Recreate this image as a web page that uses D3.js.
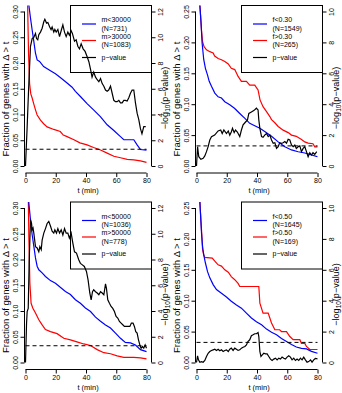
<!DOCTYPE html>
<html><head><meta charset="utf-8">
<script src="https://cdn.jsdelivr.net/npm/d3@7"></script>
<style>body{margin:0;background:#fff}svg text{font-family:"Liberation Sans",Arial,sans-serif;fill:#000}</style>
</head><body><svg id="c" width="342" height="393"></svg>
<script>
// ---------- data ----------
const xTicks = [0, 20, 40, 60, 80];
const leftTicksA = [0, 0.05, 0.10, 0.15, 0.20, 0.25, 0.30];
const leftTicksB = [0, 0.05, 0.10, 0.15, 0.20, 0.25];
const rightTicksA = [0, 2, 4, 6, 8, 10, 12];
const rightTicksB = [0, 2, 4, 6, 8, 10];
const pThreshold = 1.301; // -log10(0.05)

const legendTL = ["m<30000", "(N=731)", "m>30000", "(N=1083)", "p\u2212value"];
const legendTR = ["f<0.30", "(N=1549)", "f>0.30", "(N=265)", "p\u2212value"];
const legendBL = ["m<50000", "(N=1036)", "m>50000", "(N=778)", "p\u2212value"];
const legendBR = ["f<0.50", "(N=1645)", "f>0.50", "(N=169)", "p\u2212value"];

// top-left: m<30000 (blue), m>30000 (red), -log10 p (black)
const tlLow = [[0,1.0],[1.5,0.5],[2.2,0.313],[3.3,0.287],[4.4,0.264],[5.5,0.242],[6.6,0.219],[7.7,0.206],[9.3,0.203],[12,0.193],[16.5,0.185],[19.8,0.179],[23,0.172],[27.5,0.161],[30.8,0.153],[33,0.145],[36.3,0.135],[40.7,0.121],[45,0.109],[49.5,0.096],[54,0.080],[58.4,0.069],[62.8,0.057],[65,0.051],[71.6,0.051],[73.8,0.041],[76,0.032],[80,0.031]];
const tlHigh = [[0,1.0],[1.3,0.33],[2,0.22],[2.7,0.16],[3.5,0.140],[4.4,0.132],[5.5,0.12],[6.6,0.109],[7.7,0.099],[9.9,0.089],[12,0.082],[14.3,0.076],[18.7,0.071],[23,0.067],[25,0.060],[27.5,0.057],[32,0.051],[36,0.045],[40.7,0.041],[45,0.036],[49.6,0.031],[54,0.025],[58.4,0.019],[62.8,0.016],[67.2,0.013],[71.6,0.012],[76,0.010],[80,0.007]];
const tlP = [[0,0],[1.1,3.06],[2.2,6.4],[3.3,9.3],[4.4,9.9],[5.5,10.0],[6.6,10.3],[7.3,9.9],[8.1,9.8],[8.8,10.2],[9.9,10.4],[11,10.7],[12.1,11.2],[12.8,11.4],[13.9,11.1],[14.8,11.15],[16,10.8],[16.9,10.6],[17.6,10.8],[18.7,10.4],[19.4,10.6],[20.3,10.4],[21.4,10.6],[22.5,10.05],[23.8,10.6],[24.7,10.96],[25.8,10.4],[26.9,10.05],[28,10.4],[29,10.15],[30.2,10.5],[31,10.3],[32.4,9.7],[33.5,9.8],[34.6,9.3],[35.7,9.1],[36.8,9.5],[38.1,9.1],[39.4,8.9],[40.7,8.5],[41.9,8.1],[43,7.5],[44,6.9],[45.1,7.3],[46.3,6.9],[47.4,6.7],[48.5,6.55],[49.6,6.8],[50.7,6.4],[51.8,6.2],[52.9,5.9],[54,5.8],[55,5.9],[56.2,6.2],[57.3,5.65],[58.4,5.1],[59.5,5.0],[60.6,5.0],[61.7,5.1],[62.8,4.9],[63.9,4.9],[65,5.1],[66,5.1],[67.2,5.05],[68.3,5.3],[69.4,5.65],[70.5,5.9],[71.6,5.9],[72.7,4.9],[73.8,4.1],[74.9,3.6],[76,2.9],[77,2.5],[78.2,3.06],[79.5,3.06]];

// top-right: f<0.30 (blue), f>0.30 (red)
const trLow = [[0,1],[1.5,0.5],[2.2,0.261],[2.9,0.236],[3.7,0.199],[4.8,0.172],[5.9,0.158],[7.3,0.147],[8.4,0.137],[9.9,0.129],[12.1,0.118],[14.3,0.112],[16.5,0.110],[18.7,0.104],[22,0.099],[25.3,0.093],[28.6,0.085],[32,0.077],[35.2,0.069],[38.5,0.065],[41.9,0.061],[45.1,0.056],[49.6,0.048],[54,0.039],[58.4,0.031],[62.8,0.026],[67.2,0.023],[71.6,0.021],[76,0.018],[80,0.015]];
const trHigh = [[0,1],[1.5,0.5],[2.2,0.261],[3.3,0.22],[4,0.201],[5,0.193],[6.6,0.188],[8.8,0.185],[11,0.183],[12,0.178],[14.3,0.174],[16.5,0.172],[18.7,0.169],[21,0.165],[23,0.158],[25.3,0.156],[27.5,0.145],[29.7,0.137],[33,0.137],[35.2,0.131],[38.5,0.131],[40.7,0.123],[42,0.107],[44,0.096],[46.3,0.088],[48.5,0.080],[49.6,0.075],[51.8,0.070],[54,0.064],[57.3,0.058],[60.6,0.054],[62.8,0.050],[66,0.048],[69.4,0.043],[71.6,0.039],[73.8,0.037],[77,0.036],[78.2,0.031],[80,0.031]];
const trP = [[0,0],[0.7,1.25],[1.5,0.6],[2.9,0.43],[4.4,0.5],[5.5,0.65],[6.6,0.93],[7.7,1.25],[8.8,1.68],[9.9,1.9],[12,2.0],[14.3,2.27],[16,2.33],[17,2.1],[18.1,2.33],[19.8,2.1],[21,2.27],[22,2.0],[23,2.2],[23.8,2.44],[24.9,2.16],[25.8,2.33],[27,2.2],[28.6,1.9],[29.7,2.33],[30.8,2.66],[32,2.8],[33.7,2.98],[34.6,3.4],[36.3,3.5],[38.1,3.6],[39.6,3.74],[40.7,3.63],[41.2,2.98],[41.9,2.44],[43,1.9],[44,1.86],[45.1,2.0],[46.3,2.1],[47.4,1.9],[48.5,2.0],[49.6,1.68],[50.7,1.47],[51.8,1.51],[52.9,1.14],[54,1.25],[55,1.5],[56.2,1.47],[57.3,1.5],[58.4,1.58],[59.5,1.47],[60.6,1.73],[61.7,1.68],[62.8,1.36],[63.9,1.25],[65,1.36],[66,1.14],[67.2,1.25],[68.3,1.3],[69.4,0.93],[70.5,1.14],[71.6,1.25],[72.7,0.93],[73.8,0.6],[74.9,0.86],[76,0.71],[77,0.86],[78.2,0.76],[79.5,0.93]];

// bottom-left: m<50000 (blue), m>50000 (red)
const blLow = [[0,1],[1.5,0.5],[2.2,0.31],[3.3,0.277],[4.4,0.248],[5.5,0.226],[6.6,0.203],[7.7,0.187],[8.8,0.18],[11,0.174],[13.2,0.167],[16.5,0.159],[19.8,0.154],[23,0.146],[26.4,0.138],[29.7,0.132],[33,0.122],[36.3,0.115],[39.6,0.106],[43,0.099],[46.3,0.088],[49.6,0.080],[52.9,0.073],[56.2,0.067],[59.5,0.057],[62.8,0.047],[66,0.039],[69.4,0.038],[72.7,0.034],[76,0.025],[80,0.021]];
const blHigh = [[0,1],[1.5,0.40],[2.2,0.245],[2.9,0.154],[3.7,0.115],[4.8,0.106],[6.6,0.096],[8.8,0.083],[11,0.073],[13.2,0.064],[16.5,0.060],[20.9,0.056],[25.3,0.047],[29.7,0.044],[34,0.040],[38.5,0.036],[43,0.033],[47.4,0.025],[51.8,0.019],[56.2,0.017],[60.6,0.013],[65,0.010],[71.6,0.010],[76,0.009],[80,0.007]];
const blP = [[0,0],[0.7,3.06],[1.1,3.96],[1.8,4.2],[2.4,7.7],[3.3,11.1],[4,10.8],[4.4,10.3],[5,10.45],[5.5,10.05],[6.6,9.0],[7.7,8.9],[8.8,8.6],[9.5,9.0],[10.4,8.76],[11,9.5],[12.1,10.05],[13.2,10.4],[14.3,10.8],[15.4,10.96],[16.5,10.6],[17.6,10.2],[18.7,10.05],[19.4,10.3],[20.5,10.05],[21.4,10.4],[22.5,10.05],[23.6,10.3],[24.7,9.9],[25.8,10.4],[26.9,10.05],[28,10.05],[29,9.66],[30.2,10.05],[31.3,9.27],[32.4,8.6],[33.7,8.5],[35.2,7.98],[36.3,7.7],[37.4,7.6],[38.9,7.46],[40.3,7.07],[41.4,6.4],[42.5,5.4],[43.4,4.87],[44.3,5.5],[45.1,5.65],[46.3,5.5],[47.4,5.4],[48.5,5.26],[49.6,5.5],[50.7,5.4],[51.8,5.26],[52.9,6.1],[53.5,5.78],[54.4,4.87],[55.5,4.6],[56.6,4.35],[57.7,4.2],[58.8,3.96],[59.9,3.58],[61,3.45],[62.1,3.19],[63.2,3.06],[64.3,2.93],[65.4,2.8],[66.5,2.8],[67.6,2.8],[69,2.8],[70,3.06],[71.1,3.06],[72,2.8],[72.9,2.4],[73.8,2.28],[74.7,1.76],[75.6,1.37],[76.4,1.11],[77.3,1.24],[78.2,1.11],[79.1,1.37],[80,1.11]];

// bottom-right: f<0.50 (blue), f>0.50 (red)
const brLow = [[0,1],[1.5,0.5],[2.2,0.261],[3.3,0.21],[4,0.188],[4.8,0.174],[5.9,0.161],[7.3,0.147],[8.8,0.137],[11,0.126],[13.2,0.118],[16.5,0.112],[19.8,0.106],[23,0.099],[26.4,0.093],[29.7,0.088],[33,0.080],[36.3,0.072],[39.6,0.066],[43,0.061],[46.3,0.054],[49.6,0.049],[52.9,0.045],[56.2,0.039],[59.5,0.034],[62.8,0.029],[66,0.025],[69.4,0.023],[72.7,0.022],[76,0.018],[80,0.015]];
const brHigh = [[0,1],[1.5,0.5],[2.2,0.261],[3.3,0.215],[4,0.183],[4.8,0.174],[5.5,0.17],[10.4,0.169],[12.1,0.164],[14.3,0.158],[16.5,0.156],[18.7,0.15],[21,0.146],[23,0.139],[25.3,0.134],[27.5,0.128],[28.6,0.123],[41.2,0.123],[41.9,0.096],[44,0.08],[47.4,0.08],[49.6,0.064],[51.8,0.053],[55,0.053],[56.2,0.05],[59.5,0.05],[61.7,0.042],[63.9,0.037],[68.3,0.037],[69.4,0.031],[71.6,0.031],[72.7,0.026],[74.9,0.021],[80,0.021]];
const brP = [[0,0],[0.7,0.43],[1.3,0.17],[2.2,0.02],[3.3,0.06],[4.4,0.02],[5.5,0.13],[6.6,0.39],[7.7,0.6],[8.8,0.71],[9.9,0.78],[11,0.82],[12.1,0.86],[13.2,0.78],[14.3,0.86],[15.4,0.76],[16.5,0.82],[17.6,0.71],[18.7,0.78],[19.8,0.82],[21,0.71],[22,0.86],[23,0.93],[24.2,0.78],[25.3,0.93],[26.4,0.86],[27.5,0.78],[28.6,0.82],[29.7,0.93],[30.8,0.99],[32,1.04],[33,1.14],[34,1.36],[35.2,1.47],[36.3,1.73],[37.4,1.79],[38.5,1.86],[39.6,1.86],[40.7,1.94],[41.2,1.68],[41.9,0.71],[42.6,0.39],[43.5,0.5],[44.5,0.6],[45.6,0.56],[46.7,0.56],[47.8,0.39],[48.9,0.22],[50,0.13],[51.1,0.22],[52.2,0.28],[53.3,0.17],[54.4,0.28],[55.5,0.22],[56.6,0.35],[57.7,0.28],[58.8,0.22],[59.9,0.35],[61,0.43],[62.1,0.35],[63.2,0.17],[64.3,0.28],[65.4,0.13],[66.5,0.22],[67.6,0.13],[68.7,0.28],[69.8,0.17],[70.9,0.35],[72,0.17],[73.1,0.02],[74.2,0.06],[75.4,0.17],[76.4,0.02],[77.5,0.17],[78.6,0.26],[80,0.24]];

// ---------- drawing ----------
const panels = [
  {ox:0,   oy:0,     lt:leftTicksA, rt:rightTicksA, low:tlLow, high:tlHigh, p:tlP, leg:legendTL},
  {ox:171, oy:0,     lt:leftTicksB, rt:rightTicksB, low:trLow, high:trHigh, p:trP, leg:legendTR},
  {ox:0,   oy:196.5, lt:leftTicksA, rt:rightTicksA, low:blLow, high:blHigh, p:blP, leg:legendBL},
  {ox:171, oy:196.5, lt:leftTicksB, rt:rightTicksB, low:brLow, high:brHigh, p:brP, leg:legendBR}
];

const svg = d3.select("#c");
const FS = 7;

panels.forEach((P, i) => {
  const g = svg.append("g").attr("transform", `translate(${P.ox},${P.oy})`);
  const L = 24.5, R = 151.5, T = 5.5, B = 173;
  const x = d3.scaleLinear().domain([0, 80]).range([25.5, 146.5]);
  const yL = d3.scaleLinear().domain([0, d3.max(P.lt)]).range([166, 11.5]);
  const yR = d3.scaleLinear().domain([0, d3.max(P.rt)]).range([166, 11.5]);

  const cid = "clip" + i;
  g.append("clipPath").attr("id", cid).append("rect")
    .attr("x", L).attr("y", T).attr("width", R - L).attr("height", B - T);
  const plot = g.append("g").attr("clip-path", `url(#${cid})`);

  const lineL = d3.line().x(d => x(d[0])).y(d => yL(d[1]));
  const lineR = d3.line().x(d => x(d[0])).y(d => yR(d[1]));

  plot.append("path").datum(P.high).attr("d", lineL)
    .attr("fill", "none").attr("stroke", "#ff0000").attr("stroke-width", 1.2);
  plot.append("path").datum(P.low).attr("d", lineL)
    .attr("fill", "none").attr("stroke", "#0000ff").attr("stroke-width", 1.2);
  plot.append("line").attr("x1", x(0)).attr("x2", x(80))
    .attr("y1", yR(pThreshold)).attr("y2", yR(pThreshold))
    .attr("stroke", "#000").attr("stroke-width", 1).attr("stroke-dasharray", "4,3");
  plot.append("path").datum(P.p).attr("d", lineR)
    .attr("fill", "none").attr("stroke", "#000").attr("stroke-width", 1.2);

  // bottom axis
  const ax = g.append("g").attr("transform", `translate(0,${B})`)
    .call(d3.axisBottom(x).tickValues(xTicks).tickSize(4).tickPadding(1.5).tickFormat(d3.format("d")));
  ax.select(".domain").attr("d", `M${x(0)},0H${x(80)}`).attr("stroke-width", 1);
  ax.selectAll("text").attr("font-size", FS).attr("font-family", null);

  // left axis
  const ay = g.append("g").attr("transform", `translate(${L},0)`)
    .call(d3.axisLeft(yL).tickValues(P.lt).tickSize(4).tickFormat(d3.format(".2f")));
  ay.select(".domain").attr("d", `M0,${yL(0)}V${yL(d3.max(P.lt))}`);
  ay.selectAll(".tick text").attr("font-size", FS).attr("font-family", null)
    .attr("x", null).attr("dy", null).attr("text-anchor", "middle")
    .attr("transform", "translate(-7,0) rotate(-90)");

  // right axis
  const ar = g.append("g").attr("transform", `translate(${R},0)`)
    .call(d3.axisRight(yR).tickValues(P.rt).tickSize(4).tickFormat(d3.format("d")));
  ar.select(".domain").attr("d", `M0,${yR(0)}V${yR(d3.max(P.rt))}`);
  ar.selectAll(".tick text").attr("font-size", FS).attr("font-family", null)
    .attr("x", null).attr("dy", null).attr("text-anchor", "middle")
    .attr("transform", "translate(11.5,0) rotate(-90)");

  // axis titles
  g.append("text").attr("x", 88).attr("y", 193).attr("text-anchor", "middle")
    .attr("font-size", FS + 0.5).text("t (min)");
  g.append("text").attr("transform", "translate(8.5,99) rotate(-90)").attr("text-anchor", "middle")
    .attr("font-size", 9.5).text("Fraction of genes with \u0394 > t");
  const rl = g.append("text").attr("transform", "translate(168,98) rotate(-90)").attr("text-anchor", "middle")
    .attr("font-size", 9);
  rl.append("tspan").text("\u2212log");
  rl.append("tspan").attr("font-size", 6.5).attr("dy", 2).text("10");
  rl.append("tspan").attr("dy", -2).text("(p\u2212value)");

  // legend (transparent box, as in R)
  const lg = g.append("g");
  lg.append("rect").attr("x", 70.5).attr("y", T).attr("width", R - 70.5).attr("height", 67)
    .attr("fill", "none").attr("stroke", "#000").attr("stroke-width", 1);
  const rows = [
    {c:"#0000ff", t:[P.leg[0], P.leg[1]], y:24},
    {c:"#ff0000", t:[P.leg[2], P.leg[3]], y:40.5},
    {c:"#000",    t:[P.leg[4]],           y:57.5}
  ];
  rows.forEach(r => {
    lg.append("line").attr("x1", 82).attr("x2", 96).attr("y1", r.y).attr("y2", r.y)
      .attr("stroke", r.c).attr("stroke-width", 1.2);
    r.t.forEach((s, k) => {
      const yy = r.t.length === 2 ? r.y - 4.2 + k * 8.4 : r.y;
      lg.append("text").attr("x", 101.5).attr("y", yy).attr("dy", "0.35em")
        .attr("font-size", FS).text(s);
    });
  });
});
</script>
</body></html>
